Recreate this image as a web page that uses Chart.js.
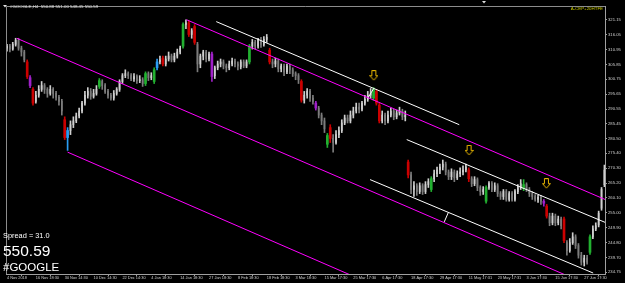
<!DOCTYPE html>
<html><head><meta charset="utf-8">
<script src="https://cdn.jsdelivr.net/npm/chart.js@4.4.1/dist/chart.umd.min.js"></script>
<style>html,body{margin:0;padding:0;background:#000;overflow:hidden}canvas{display:block}</style>
</head><body><canvas id="c" width="625" height="283"></canvas>
<script>
// ---- data ----
const timeLabels = ['4 Nov 2018','16 Nov 18:30','30 Nov 14:30','10 Dec 14:30','22 Dec 14:30','4 Jan 18:30','14 Jan 18:30','27 Jan 18:30','8 Feb 18:30','18 Feb 18:30','3 Mar 18:30','15 Mar 17:30','25 Mar 17:30','6 Apr 17:30','18 Apr 17:30','29 Apr 17:30','11 May 17:31','23 May 17:31','3 Jun 17:30','15 Jun 17:30','27 Jun 17:30'];
const labelBars = [0,10,20,30,40,50,60,70,80,90,100,110,120,130,140,150,160,170,180,190,200];
const priceTicks = [321.15,316.05,310.95,305.85,300.75,295.65,290.55,285.45,280.50,275.40,270.30,265.20,260.10,255.00,249.90,244.80,239.70,234.75];

const openP = [311.4,312.1,311.1,312.7,314.1,311.4,310.1,306.7,301.3,297.3,
293.2,295.3,297.3,298.6,297.3,295.9,297.3,295.9,294.6,293.2,
286.9,280.8,283.2,285.2,286.5,288.2,289.9,292.6,295.3,296.6,
294.9,295.9,298.3,300.0,298.6,296.6,295.3,294.3,295.9,297.3,
300.0,302.0,302.7,302.0,301.0,301.7,300.3,300.6,299.3,302.7,
301.3,300.0,304.7,306.7,308.0,306.0,307.7,308.7,307.4,308.7,
310.1,312.1,319.5,320.1,316.1,318.8,312.7,306.0,308.7,310.1,
307.7,309.4,302.0,304.7,306.0,306.7,305.3,304.7,306.0,307.0,
306.0,305.0,306.7,305.3,306.7,312.1,313.4,312.1,314.1,312.7,
314.4,310.7,306.7,306.0,307.0,304.3,305.3,303.3,305.3,304.0,
302.7,302.0,300.0,293.6,295.3,296.6,294.3,292.6,290.9,288.5,
286.5,278.5,284.2,280.5,279.1,281.8,283.2,285.8,287.5,286.5,
288.5,289.9,291.2,290.5,292.6,293.9,295.3,294.3,296.6,291.9,
286.5,288.5,286.5,288.5,289.9,287.9,289.2,289.9,287.9,272.4,
268.0,263.0,264.3,262.3,264.3,262.3,264.7,263.0,266.7,268.4,
269.7,270.7,271.7,269.0,267.4,269.0,267.0,268.4,269.0,269.7,
269.7,266.7,265.0,266.4,263.7,262.3,259.0,263.7,265.0,263.0,
264.3,261.6,260.6,262.3,259.6,261.6,259.6,262.3,263.7,263.3,
264.7,263.0,261.6,260.6,259.6,260.3,259.0,257.3,253.9,251.6,
253.9,251.6,252.9,252.9,244.8,242.1,244.8,246.8,243.8,240.5,
238.1,239.5,241.5,246.8,249.5,250.9,256.6,264.7];
const closeP = [312.1,311.1,312.7,314.1,311.4,310.1,307.4,301.7,298.6,292.6,
295.3,297.3,298.6,297.3,295.9,297.3,295.9,294.6,293.2,289.9,
280.8,283.2,285.2,286.5,288.2,289.9,292.6,295.3,296.6,294.9,
295.9,297.3,300.3,298.6,296.6,295.3,294.3,295.9,297.3,300.0,
302.0,302.7,302.0,301.0,301.7,300.3,300.6,299.3,302.7,301.3,
302.0,304.0,306.7,307.4,306.0,307.7,308.7,307.4,308.7,310.1,
311.4,319.5,320.1,316.1,317.4,313.4,306.0,308.7,310.1,307.7,
309.4,301.7,304.7,306.0,306.7,305.3,304.7,306.0,307.0,306.0,
305.3,306.7,305.3,306.7,312.1,313.4,312.1,314.1,312.7,314.4,
315.1,306.7,306.0,307.0,304.3,305.3,303.3,305.3,304.0,302.7,
302.0,300.6,293.6,295.3,296.6,294.3,293.2,290.9,288.5,286.5,
283.8,281.5,280.5,279.1,281.8,283.2,285.8,287.5,286.5,288.5,
289.9,291.2,290.5,292.6,293.9,295.3,295.9,297.3,292.6,286.5,
288.5,286.5,288.5,289.9,287.9,289.2,289.9,287.9,288.5,268.0,
263.0,264.3,262.3,264.3,262.3,264.7,265.7,266.7,268.4,269.7,
270.7,271.7,269.0,267.4,269.0,267.0,268.4,269.0,269.7,270.7,
266.7,265.0,266.4,263.7,262.3,263.0,263.7,265.0,263.0,264.3,
261.6,260.6,262.3,259.6,261.6,259.6,262.3,263.7,265.0,264.7,
263.0,261.6,260.6,259.6,260.3,259.0,258.3,253.9,251.6,253.9,
251.6,252.9,250.6,245.5,242.1,244.8,246.8,243.8,240.5,238.1,
239.5,238.1,246.8,249.5,250.6,254.9,263.0,269.7];
const highP = [312.7,312.7,313.4,314.8,314.8,312.1,310.7,307.4,302.0,297.9,
296.6,298.6,300.0,299.3,297.9,298.6,297.9,296.6,295.3,293.9,
287.9,284.2,286.5,287.9,289.2,290.9,293.2,296.6,297.9,297.6,
297.3,298.6,301.0,300.6,299.3,297.3,295.9,296.9,297.9,300.6,
302.7,304.0,303.3,302.7,302.7,302.3,302.0,301.3,303.3,303.3,
303.0,304.7,307.7,308.7,308.7,308.7,310.1,309.4,309.7,311.1,
312.1,320.1,321.1,320.8,318.1,319.5,313.4,309.4,310.7,310.7,
310.1,310.1,305.3,307.0,307.7,307.4,306.0,307.0,308.0,307.7,
306.7,307.4,307.4,307.4,312.7,314.4,314.1,314.8,315.1,315.4,
316.1,311.4,307.7,308.0,307.7,306.0,306.0,306.0,306.0,304.7,
303.3,302.7,300.6,296.6,297.6,297.3,295.3,293.2,291.5,289.2,
287.5,282.2,285.2,281.8,283.2,284.5,286.9,288.5,288.5,289.9,
291.2,292.6,292.6,293.2,295.3,296.6,297.6,297.9,297.3,292.6,
289.9,289.2,289.9,290.9,290.5,290.2,291.2,290.5,289.9,273.1,
269.0,265.7,265.0,265.3,265.0,265.7,266.7,267.4,269.7,270.7,
271.7,273.1,272.4,269.7,270.1,269.7,269.4,270.4,271.1,271.7,
270.4,267.4,267.4,267.0,264.3,264.0,264.3,265.7,265.7,265.3,
265.0,262.3,263.0,263.0,262.3,262.3,263.0,264.7,266.4,266.4,
265.3,263.7,262.3,261.3,261.0,261.0,259.6,257.9,254.9,254.9,
254.6,253.9,253.6,253.6,245.5,246.2,248.2,247.5,244.5,241.5,
240.5,240.5,247.5,250.6,251.6,255.6,263.7,271.4];
const lowP = [310.4,310.1,310.7,312.1,310.7,308.7,306.7,301.0,297.9,291.9,
292.6,294.6,296.6,295.9,294.6,295.3,294.3,293.6,291.9,288.5,
280.1,276.4,281.8,284.2,285.9,287.5,289.2,291.9,294.3,293.9,
294.3,295.3,297.6,297.3,295.9,294.3,293.6,293.6,295.3,296.6,
299.3,301.3,301.0,300.3,300.0,299.3,299.6,298.3,298.6,300.3,
300.6,299.3,304.0,306.0,305.3,305.3,307.0,306.7,306.7,308.0,
309.4,311.4,318.1,315.4,314.8,312.7,303.3,304.7,307.4,306.7,
307.0,300.0,301.0,304.0,305.0,304.3,303.3,304.0,305.3,305.0,
304.0,304.3,304.7,304.7,306.0,311.1,311.1,311.4,311.7,312.1,
313.4,306.0,304.7,305.0,303.3,303.3,302.0,302.7,302.7,301.7,
300.6,299.3,292.9,292.6,294.3,293.2,292.2,290.2,287.5,285.2,
282.5,277.4,279.1,275.8,278.5,280.8,282.5,285.2,285.8,285.8,
287.5,289.2,289.2,289.9,291.9,293.2,294.3,293.6,291.9,285.8,
285.8,285.2,285.8,287.9,286.9,287.2,288.5,286.9,286.5,267.0,
261.6,260.6,261.0,261.6,261.3,261.6,263.7,262.3,265.7,267.4,
268.4,269.7,268.0,266.4,266.4,265.7,266.4,267.4,268.0,269.0,
265.7,264.0,264.3,262.6,261.0,261.3,258.3,263.0,262.3,262.3,
260.6,259.6,259.6,259.0,259.0,259.0,259.0,261.6,263.0,262.6,
262.3,260.6,259.6,259.0,258.6,257.9,257.3,253.2,250.6,250.9,
250.6,250.9,249.5,244.8,240.5,241.5,244.2,242.8,239.5,237.1,
236.8,237.4,240.8,246.2,248.9,250.2,255.9,264.0];

// indicator-highlighted bars
const bigUpBars = [32,48,51,61,84,111,127,147,166,179,202];
const bigDownBars = [7,9,20,54,63,65,91,102,112,128,129,139,160,187,193];
const blueBars = [21,52];
const purpleBars = [8,71,107,186];

// trend lines / channels (bar index, price)
const magentaA = [{x:62.2,y:321.15},{x:207.2,y:259.6}];
const magentaB = [{x:3.4,y:314.8},{x:195,y:233.1}];
const magentaC = [{x:21.0,y:275.8},{x:120,y:233.3}];
const whiteD = [{x:72.5,y:320.5},{x:156.7,y:285.2}];
const whiteE = [{x:138.5,y:280.1},{x:207.6,y:251.6}];
const whiteF = [{x:125.8,y:266.4},{x:203.1,y:234.4}];
const connG = [{x:125.0,y:294.25},{x:127.05,y:297.6}];
const connH = [{x:151.5,y:251.9},{x:152.9,y:255.1}];
const signalArrows = [{x:127.1,y:302.0},{x:160.1,y:276.4},{x:186.9,y:265.0}];

// ---- styling helpers ----
const COL = {up:'#cfcfcf', down:'#7c7c7c', green:'#22b030', red:'#cc0000', blue:'#2a9df4', purple:'#a020c8'};
function signalColor(i){
  if (bigUpBars.includes(i)) return COL.green;
  if (bigDownBars.includes(i)) return COL.red;
  if (blueBars.includes(i)) return COL.blue;
  if (purpleBars.includes(i)) return COL.purple;
  return null;
}
function barColor(i){
  return signalColor(i) || (closeP[i] >= openP[i] ? COL.up : COL.down);
}
const idx = openP.map((_, i) => i);
const plainIdx = idx.filter(i => !signalColor(i));
const signalIdx = idx.filter(i => signalColor(i));

function arrowImg(){
  const c = document.createElement('canvas'); c.width = 9; c.height = 11;
  const g = c.getContext('2d');
  g.strokeStyle = '#e6b400'; g.lineWidth = 1;
  g.beginPath();
  g.moveTo(2.5,0.5); g.lineTo(6.5,0.5); g.lineTo(6.5,5.5); g.lineTo(8.5,5.5);
  g.lineTo(4.5,10); g.lineTo(0.5,5.5); g.lineTo(2.5,5.5); g.closePath();
  g.stroke();
  return c;
}
const arrow = arrowImg();

function lineDs(data, color){
  return {type:'line', data, borderColor:color, borderWidth:1, pointRadius:0, fill:false, tension:0, order:1};
}

const overlay = {
  id:'overlay',
  beforeDraw(ch){
    const c = ch.ctx; c.save(); c.fillStyle = '#000'; c.fillRect(0,0,ch.width,ch.height); c.restore();
  },
  afterDraw(ch){
    const c = ch.ctx; const a = ch.chartArea;
    c.save();
    c.strokeStyle = '#8c8c8c'; c.lineWidth = 1;
    c.beginPath(); c.moveTo(a.left+0.5, a.bottom); c.lineTo(a.left+0.5, a.top+0.5); c.lineTo(a.right, a.top+0.5); c.stroke();
    // header
    c.fillStyle = '#e0e0e0';
    c.beginPath(); c.moveTo(3,5); c.lineTo(7,5); c.lineTo(5,7.5); c.closePath(); c.fill();
    c.font = '4.4px "Liberation Sans", Arial, sans-serif';
    c.textBaseline = 'alphabetic'; c.textAlign = 'left';
    c.fillText('#GOOGLE,H4  550.88 551.00 548.45 550.59', 10, 7.6);
    c.beginPath(); c.moveTo(482,1); c.lineTo(486,1); c.lineTo(484,3.5); c.closePath(); c.fill();
    c.fillStyle = '#c8c800'; c.textAlign = 'right';
    c.fillText('A-CEP+20HTFE', 603, 9.5);
    // bottom-left info
    c.fillStyle = '#ffffff'; c.textAlign = 'left';
    c.font = '7.4px "Liberation Sans", Arial, sans-serif';
    c.fillText('Spread = 31.0', 3, 237.5);
    c.font = '15.5px "Liberation Sans", Arial, sans-serif';
    c.fillText('550.59', 3, 255.5);
    c.font = '11.5px "Liberation Sans", Arial, sans-serif';
    c.fillText('#GOOGLE', 3, 271);
    c.restore();
  }
};

new Chart(document.getElementById('c'), {
  type:'bar',
  data:{
    datasets:[
      {label:'wick', data: idx.map(i => ({x:i, y:[lowP[i], highP[i]]})), backgroundColor: idx.map(barColor), barThickness:1, grouped:false, order:3},
      {label:'body', data: plainIdx.map(i => ({x:i, y:[openP[i], closeP[i]]})), backgroundColor: plainIdx.map(barColor), barThickness:1, minBarLength:1, grouped:false, order:2},
      {label:'signal', data: signalIdx.map(i => ({x:i, y:[openP[i], closeP[i]]})), backgroundColor: signalIdx.map(barColor), barThickness:2, minBarLength:1, grouped:false, order:2},
      lineDs(magentaA, '#ff00ff'),
      lineDs(magentaB, '#ff00ff'),
      lineDs(magentaC, '#ff00ff'),
      lineDs(whiteD, '#ffffff'),
      lineDs(whiteE, '#ffffff'),
      lineDs(whiteF, '#ffffff'),
      lineDs(connG, '#ffffff'),
      lineDs(connH, '#ffffff'),
      {type:'line', data: signalArrows, showLine:false, pointStyle: arrow, pointRadius:5, order:0}
    ]
  },
  options:{
    responsive:false, animation:false, devicePixelRatio:1,
    layout:{padding:{left:1, top:1, right:0, bottom:0}},
    plugins:{legend:{display:false}, tooltip:{enabled:false}},
    scales:{
      x:{
        type:'linear', min:-0.344, max:207.2, offset:false,
        grid:{drawOnChartArea:false, drawTicks:true, tickLength:2, color:'#a0a0a0'},
        border:{display:true, color:'#a0a0a0'},
        afterBuildTicks(s){ s.ticks = labelBars.map(v => ({value:v})); },
        afterFit(s){ s.height = 9; },
        ticks:{autoSkip:false, maxRotation:0, minRotation:0, align:'start', padding:0,
          color:'#d0d0d0', font:{family:'"Liberation Sans", Arial, sans-serif', size:3.9},
          callback(v, i){ return timeLabels[i]; }}
      },
      y:{
        type:'linear', position:'right', min:234.07, max:325.85,
        grid:{drawOnChartArea:false, drawTicks:true, tickLength:2, color:'#a0a0a0'},
        border:{display:true, color:'#a0a0a0'},
        afterBuildTicks(s){ s.ticks = priceTicks.map(v => ({value:v})); },
        afterFit(s){ s.width = 20; },
        ticks:{autoSkip:false, padding:1, color:'#d0d0d0',
          font:{family:'"Liberation Sans", Arial, sans-serif', size:4.2},
          callback(v){ return Number(v).toFixed(2); }}
      }
    }
  },
  plugins:[overlay]
});
</script>
</body></html>
